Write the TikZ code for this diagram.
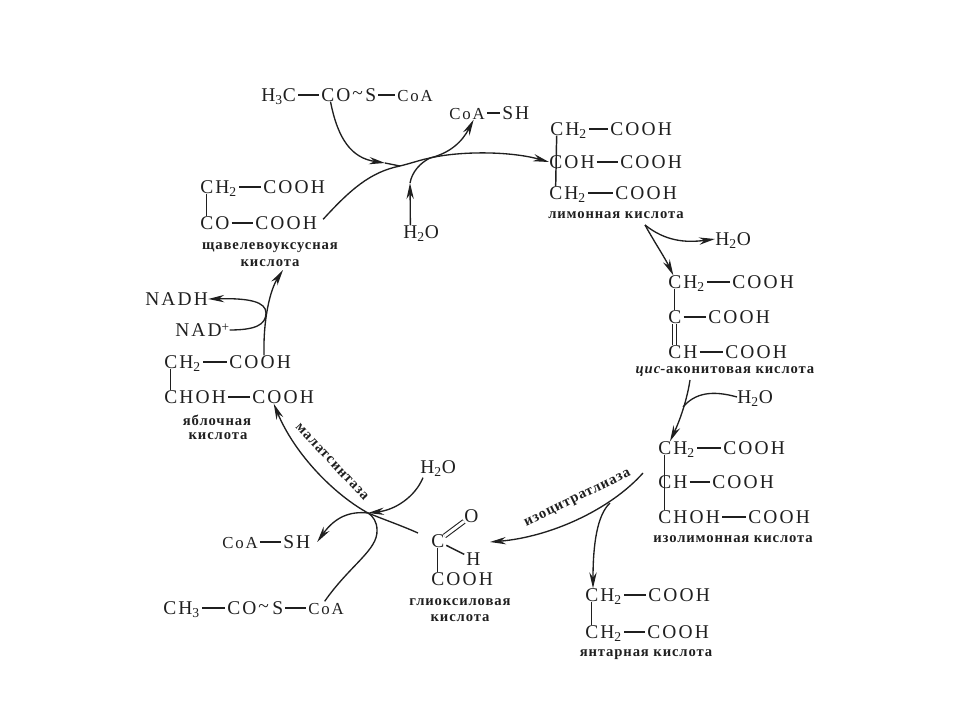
\documentclass[tikz,border=0pt]{standalone}
\usepackage{fontspec}
\newfontfamily\chemfont[LetterSpace=11]{Liberation Serif}
\newfontfamily\namefont[LetterSpace=6]{Liberation Serif}
\usetikzlibrary{arrows.meta}

\definecolor{ink}{gray}{0.12}

\tikzset{
  chem/.style={anchor=west, inner sep=0pt, text height=9.6pt, text depth=0pt, text=ink,
    font=\chemfont\fontsize{14.6}{16}\selectfont},
  coa/.style={chem, font=\chemfont\fontsize{12.6}{16}\selectfont},
  acid/.style={inner sep=0pt, yshift=-0.8pt, text=ink, font=\namefont\bfseries\fontsize{11}{13}\selectfont},
  bond/.style={draw=ink, line width=1.1pt, shorten <=1.5pt, shorten >=1.5pt},
  vbond/.style={draw=ink, line width=1.1pt},
  dbond/.style={draw=ink, double, double distance=2.2pt, line width=0.8pt},
  rxn/.style={draw=ink, line width=1pt},
  head/.style={-{Stealth[length=12pt,width=5.5pt]}}
}

\begin{document}
\begin{tikzpicture}[x=0.75pt,y=-0.75pt]
  \useasboundingbox (0,0) rectangle (960,720);

  % junctions of the curved arrows
  \coordinate (j1) at (400,166);
  \coordinate (j2) at (430,158);
  \coordinate (j3) at (645,225); % below citric acid
  \coordinate (j4) at (690,380); % below aconitic acid
  \coordinate (j5) at (683,407);
  \coordinate (j6) at (643,473); % lyase start
  \coordinate (j7) at (610,503); % succinate branch
  \coordinate (j8) at (368,513); % synthase crossing
  \coordinate (j9) at (418,533); % synthase start

  % acetyl-CoA, top
  \node[chem] (ac1a) at (261,95) {H\textsubscript{3}C};
  \node[chem] (ac1b) at (321,95) {CO};
  \node[chem] (ac1t) at (352,93) {\textasciitilde};
  \node[chem] (ac1s) at (365,95) {S};
  \node[coa] (ac1c) at (397,95) {CoA};
  \draw[bond] (ac1a) -- (ac1b);
  \draw[bond] (ac1s) -- (ac1c);

  % CoA-SH, top
  \node[coa] (coa1) at (449,113) {CoA};
  \node[chem] (coa1s) at (502,113) {SH};
  \draw[bond] (coa1) -- (coa1s);

  % oxaloacetic acid
  \node[chem] (oaa1) at (200,187) {CH\textsubscript{2}};
  \node[chem] (oaa1c) at (263,187) {COOH};
  \node[chem] (oaa2) at (200,223) {CO};
  \node[chem] (oaa2c) at (255,223) {COOH};
  \draw[bond] (oaa1) -- (oaa1c);
  \draw[bond] (oaa2) -- (oaa2c);
  \draw[vbond] ([xshift=5pt]oaa1.south west) -- ([xshift=5pt]oaa2.north west);
  \node[acid] (oaan1) at (270,247) {щавелевоуксусная};
  \node[acid] (oaan2) at (270,262) {кислота};

  % water at the condensation
  \node[chem] (wat1) at (403,232) {H\textsubscript{2}O};

  % citric acid
  \node[chem] (cit1) at (550,129) {CH\textsubscript{2}};
  \node[chem] (cit1c) at (610,129) {COOH};
  \node[chem] (cit2) at (549,162) {COH};
  \node[chem] (cit2c) at (620,162) {COOH};
  \node[chem] (cit3) at (549,193) {CH\textsubscript{2}};
  \node[chem] (cit3c) at (615,193) {COOH};
  \draw[bond] (cit1) -- (cit1c);
  \draw[bond] (cit2) -- (cit2c);
  \draw[bond] (cit3) -- (cit3c);
  \draw[vbond] ([xshift=5pt]cit1.south west) -- ([xshift=5pt]cit3.north west);
  \node[acid] (citn) at (616,214) {лимонная кислота};

  \node[chem] (wat2) at (715,239) {H\textsubscript{2}O};

  % cis-aconitic acid
  \node[chem] (aco1) at (668,282) {CH\textsubscript{2}};
  \node[chem] (aco1c) at (732,282) {COOH};
  \node[chem] (aco2) at (668,317) {C};
  \node[chem] (aco2c) at (708,317) {COOH};
  \node[chem] (aco3) at (668,352) {CH};
  \node[chem] (aco3c) at (725,352) {COOH};
  \draw[bond] (aco1) -- (aco1c);
  \draw[bond] (aco2) -- (aco2c);
  \draw[bond] (aco3) -- (aco3c);
  \draw[vbond] ([xshift=5pt]aco1.south west) -- ([xshift=5pt]aco2.north west);
  \draw[dbond] ([xshift=5pt]aco2.south west) -- ([xshift=5pt]aco3.north west);
  \node[acid] (acon) at (725,370) {{\itshape цис}-аконитовая кислота};

  \node[chem] (wat3) at (737,397) {H\textsubscript{2}O};

  % isocitric acid
  \node[chem] (iso1) at (658,448) {CH\textsubscript{2}};
  \node[chem] (iso1c) at (723,448) {COOH};
  \node[chem] (iso2) at (658,482) {CH};
  \node[chem] (iso2c) at (712,482) {COOH};
  \node[chem] (iso3) at (658,517) {CHOH};
  \node[chem] (iso3c) at (748,517) {COOH};
  \draw[bond] (iso1) -- (iso1c);
  \draw[bond] (iso2) -- (iso2c);
  \draw[bond] (iso3) -- (iso3c);
  \draw[vbond] ([xshift=5pt]iso1.south west) -- ([xshift=5pt]iso3.north west);
  \node[acid] (ison) at (733,538) {изолимонная кислота};

  % succinic acid
  \node[chem] (suc1) at (585,595) {CH\textsubscript{2}};
  \node[chem] (suc1c) at (648,595) {COOH};
  \node[chem] (suc2) at (585,632) {CH\textsubscript{2}};
  \node[chem] (suc2c) at (647,632) {COOH};
  \draw[bond] (suc1) -- (suc1c);
  \draw[bond] (suc2) -- (suc2c);
  \draw[vbond] ([xshift=5pt]suc1.south west) -- ([xshift=5pt]suc2.north west);
  \node[acid] (sucn) at (646,654) {янтарная кислота};

  % glyoxylic acid
  \node[chem] (gly1) at (431,541) {C};
  \node[chem] (glyo) at (464,516) {O};
  \node[chem] (glyh) at (466,559) {H};
  \node[chem] (gly2) at (431,579) {COOH};
  \draw[dbond] (gly1) -- (glyo);
  \draw[bond] (gly1) -- (glyh);
  \draw[vbond] ([xshift=5pt]gly1.south west) -- ([xshift=5pt]gly2.north west);
  \node[acid] (glyn1) at (460,601) {глиоксиловая};
  \node[acid] (glyn2) at (460,617) {кислота};

  % malic acid
  \node[chem] (mal1) at (164,362) {CH\textsubscript{2}};
  \node[chem] (mal1c) at (229,362) {COOH};
  \node[chem] (mal2) at (164,397) {CHOH};
  \node[chem] (mal2c) at (252,397) {COOH};
  \draw[bond] (mal1) -- (mal1c);
  \draw[bond] (mal2) -- (mal2c);
  \draw[vbond] ([xshift=5pt]mal1.south west) -- ([xshift=5pt]mal2.north west);
  \node[acid] (maln1) at (217,419) {яблочная};
  \node[acid] (maln2) at (218,435) {кислота};

  \node[chem] (nadh) at (145,299) {NADH};
  \node[chem] (nad) at (175,330) {NAD\raisebox{4pt}{\fontsize{10}{10}\selectfont +}};

  % lower CoA-SH, acetyl-CoA, water
  \node[coa] (coa2) at (222,542) {CoA};
  \node[chem] (coa2s) at (283,542) {SH};
  \draw[bond] (coa2) -- (coa2s);
  \node[chem] (ac2a) at (163,608) {CH\textsubscript{3}};
  \node[chem] (ac2b) at (227,608) {CO};
  \node[chem] (ac2t) at (258,606) {\textasciitilde};
  \node[chem] (ac2s) at (272,608) {S};
  \node[coa] (ac2c) at (308,608) {CoA};
  \draw[bond] (ac2a) -- (ac2b);
  \draw[bond] (ac2s) -- (ac2c);
  \node[chem] (wat4) at (420,467) {H\textsubscript{2}O};

  % enzymes
  \node[acid, rotate=26] (lyase) at (578,498) {изоцитратлиаза};
  \node[acid, rotate=-47] (synth) at (332,461) {малатсинтаза};

  % condensation
  \draw[rxn, head] ([xshift=-4pt]ac1b.south) .. controls (338,140) and (352,158) .. (385,163);
  \draw[rxn] (385,163) -- (j1);
  \draw[rxn, head] ([shift={(6,3)}]oaa2c.north east) .. controls (350,190) and (370,172) .. (j1)
    .. controls (412,163) and (420,160) .. (j2)
    .. controls (460,151) and (510,151) .. (cit2.west);
  \draw[rxn, head] ([xshift=-8pt]wat1.north) -- (410,183);
  \draw[rxn] (410,183) .. controls (412,172) and (420,163) .. (j2);
  \draw[rxn, head] (j2) .. controls (450,153) and (462,142) .. ([xshift=5pt]coa1.south);

  % citrate to aconitate to isocitrate
  \draw[rxn, head] (j3) .. controls (655,243) and (665,258) .. ([xshift=4pt]aco1.north west);
  \draw[rxn, head] (j3) .. controls (665,241) and (685,243) .. (wat2.west);
  \draw[rxn, head] (j4) .. controls (687,400) and (680,420) .. ([xshift=9pt]iso1.north west);
  \draw[rxn] (wat3.west) .. controls (712,390) and (695,393) .. (j5);

  % lyase, both products
  \draw[rxn, head] (j6) .. controls (610,510) and (550,537) .. (490,542);
  \draw[rxn, head] (j7) .. controls (597,515) and (593,545) .. ([xshift=6pt]suc1.north west);

  % synthase
  \draw[rxn, head] (j9) .. controls (400,525) and (385,520) .. (j8)
    .. controls (335,495) and (295,455) .. ([xshift=-7pt]mal2c.south);
  \draw[rxn, head] ([shift={(3,4)}]wat4.south west) .. controls (415,497) and (395,510) .. (j8);
  \draw[rxn, head] (j8) .. controls (350,511) and (335,517) .. ([xshift=5pt]coa2s.east);
  \draw[rxn] ([xshift=-1pt]ac2c.north) .. controls (350,565) and (378,550) .. (377,530)
    .. controls (377,522) and (373,516) .. (j8);

  % malate to oxaloacetate
  \draw[rxn, head] ([xshift=3pt]mal1c.north) .. controls (263,320) and (270,290) .. (283,270);
  \draw[rxn, head] (nad.east) .. controls (255,330) and (266,325) .. (266,313)
    .. controls (266,302) and (250,298) .. (nadh.east);
\end{tikzpicture}
\end{document}
